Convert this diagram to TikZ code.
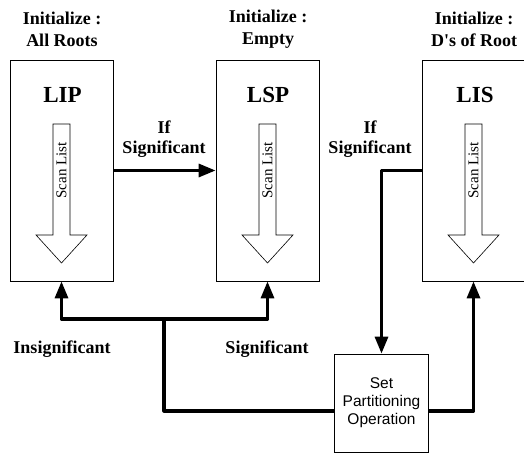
\documentclass[tikz,border=0pt]{standalone}
\usepackage{fontspec}
\setmainfont{Liberation Serif}
\setsansfont{Liberation Sans}
\usepackage{tikz}
\usetikzlibrary{arrows.meta, positioning, calc}

\begin{document}
\begin{tikzpicture}[x=1pt, y=1pt,
    listbox/.style={draw, line width=0.8pt, minimum width=103pt, minimum height=221pt, inner sep=0pt},
    opbox/.style={draw, line width=0.8pt, minimum width=94pt, minimum height=98pt, inner sep=0pt, align=center, font=\sffamily\fontsize{15.5}{18}\selectfont},
    initlabel/.style={align=center, font=\bfseries\fontsize{18}{22}\selectfont},
    listname/.style={font=\bfseries\fontsize{23}{26}\selectfont},
    edgelabel/.style={align=center, font=\bfseries\fontsize{18}{20}\selectfont},
    scanarrow/.style={draw, line width=0.6pt, fill=white},
    flow/.style={line width=3.2pt, line join=round},
    flowarrow/.style={flow, -{Triangle[length=17pt, width=13pt]}}]

  \useasboundingbox (0,0) rectangle (524,457);

  % The three lists
  \node[listbox] (lip) at (61.5,286.5) {};
  \node[listbox] (lsp) at (267.5,286.5) {};
  \node[listbox] (lis) at (473.5,286.5) {};

  \node[listname] (lipname) at (62.5,362) {LIP};
  \node[listname] (lspname) at (268,362) {LSP};
  \node[listname] (lisname) at (475,362) {LIS};

  % Initial contents
  \node[initlabel] (lipinit) at (62,428) {Initialize :\\All Roots};
  \node[initlabel] (lspinit) at (268,428) {Initialize :\\Empty};
  \node[initlabel] (lisinit) at (474,428) {Initialize :\\D\textquotesingle s of Root};

  % Scan list arrows inside each list
  \foreach \n in {lip,lsp,lis} {
    \draw[scanarrow, shift={(\n.center)}] (-8.5,46.5) -- (8.5,46.5) -- (8.5,-64.5) -- (25.5,-64.5)
      -- (0,-92.5) -- (-25.5,-64.5) -- (-8.5,-64.5) -- cycle;
    \node[rotate=90, font=\fontsize{15}{17}\selectfont, shift={(\n.center)}] (\n scan) at (0,-23) {Scan List};
  }

  % Set partitioning
  \node[opbox] (spo) at (381.5,54) {Set\\Partitioning\\Operation};
  \coordinate (split) at (164,138);

  % Connectors
  \draw[flowarrow] (lip.east) -- (lsp.west);
  \draw[flowarrow] (lis.west) -| (spo.north);
  \draw[flow] ([yshift=-8pt]spo.west) -| (split);
  \draw[flowarrow] (split) -| (lip.south);
  \draw[flowarrow] (split) -| (lsp.south);
  \draw[flowarrow] ([yshift=-8pt]spo.east) -| (lis.south);

  % Edge labels
  \node[edgelabel] (sig1) at (164,318) {If\\Significant};
  \node[edgelabel] (sig2) at (370,318) {If\\Significant};
  \node[edgelabel] (insig) at (62,108) {Insignificant};
  \node[edgelabel] (sig3) at (267,108) {Significant};
\end{tikzpicture}
\end{document}
